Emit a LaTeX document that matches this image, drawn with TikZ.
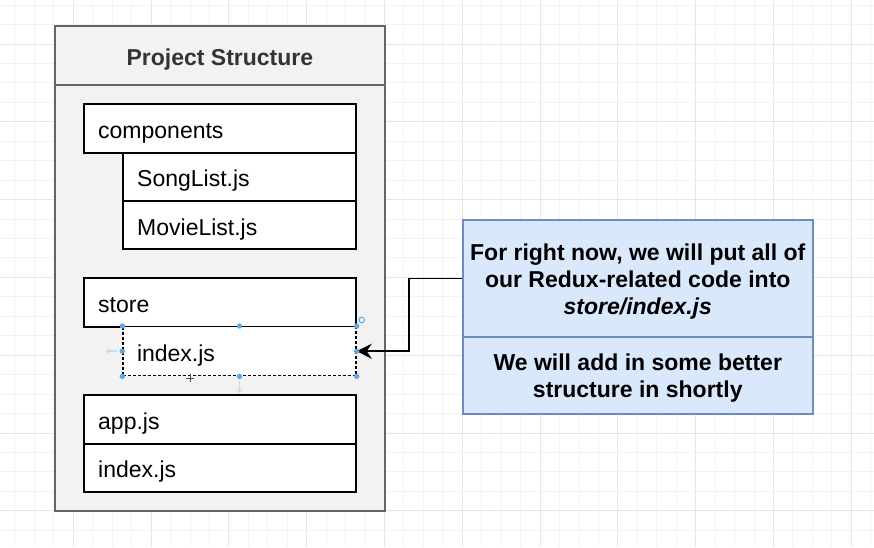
\documentclass[tikz,border=0pt]{standalone}
\usepackage{fontspec}
\setmainfont{Liberation Sans}
\usetikzlibrary{arrows.meta,calc}
\definecolor{gridminor}{HTML}{F3F3F3}
\definecolor{gridmajor}{HTML}{E6E6E6}
\definecolor{projfill}{HTML}{F2F2F2}
\definecolor{projline}{HTML}{666666}
\definecolor{titletext}{HTML}{333333}
\definecolor{notefill}{HTML}{DAE8FC}
\definecolor{noteline}{HTML}{6C8EBF}
\definecolor{handle}{HTML}{5FA8E8}
\definecolor{faintblue}{HTML}{C3DCF2}
\tikzset{
  bodyfont/.style={font=\fontsize{23pt}{27pt}\selectfont},
  filebox/.style={draw=black, fill=white, line width=1.8pt, anchor=north west,
    inner xsep=14pt, inner ysep=0pt, align=left, bodyfont, text=black,
    text height=20pt, text depth=0pt},
  notebox/.style={draw=noteline, fill=notefill, line width=1.8pt, anchor=north west,
    inner sep=0pt, align=center, minimum width=349.7pt,
    font=\fontsize{23pt}{27pt}\selectfont\bfseries},
  handledot/.style={fill=handle, draw=none},
  link/.style={draw=black, line width=1.8pt, -{Stealth[length=15pt,width=15pt,inset=5pt]}}
}
\begin{document}
\begin{tikzpicture}[x=1pt,y=-1pt]
\useasboundingbox (0,0) rectangle (874,547);
\fill[white] (0,0) rectangle (874,547);
% grid
\foreach \i in {-4,...,41}{
  \pgfmathsetmacro{\gx}{73.3+\i*19.45}
  \pgfmathtruncatemacro{\m}{mod(\i+40,4)}
  \ifnum\m=0
    \draw[gridmajor, line width=1pt] (\gx,0) -- (\gx,547);
  \else
    \draw[gridminor, line width=1pt] (\gx,0) -- (\gx,547);
  \fi
}
\foreach \j in {-3,...,26}{
  \pgfmathsetmacro{\gy}{44+\j*19.45}
  \pgfmathtruncatemacro{\m}{mod(\j+40,4)}
  \ifnum\m=0
    \draw[gridmajor, line width=1pt] (0,\gy) -- (874,\gy);
  \else
    \draw[gridminor, line width=1pt] (0,\gy) -- (874,\gy);
  \fi
}
% project container
\node[draw=projline, fill=projfill, line width=1.8pt, anchor=north west,
      minimum width=330pt, minimum height=485pt, inner sep=0pt] (proj) at (54,25) {};
\node[draw=projline, fill=projfill, line width=1.8pt, anchor=north west,
      minimum width=330pt, minimum height=59pt, inner sep=0pt,
      text height=20pt, text depth=0pt,
      font=\fontsize{23pt}{27pt}\selectfont\bfseries, text=titletext] (title) at (54,25) {Project Structure};
% files
\node[filebox, minimum width=272pt, minimum height=49pt, text width=244pt] (comp) at (83.3,102.7) {components};
\node[filebox, minimum width=233pt, minimum height=48.3pt, text width=205pt] (song) at (122.3,151.7) {SongList.js};
\node[filebox, minimum width=233pt, minimum height=48.3pt, text width=205pt] (movie) at (122.3,200) {MovieList.js};
\node[filebox, minimum width=272pt, minimum height=48.7pt, text width=244pt] (store) at (83.3,277.3) {store};
\node[filebox, minimum width=233pt, minimum height=49pt, text width=205pt, densely dashed, line width=1.4pt] (idx) at (122.3,326) {index.js};
\node[filebox, minimum width=272pt, minimum height=48.7pt, text width=244pt] (app) at (83.3,394) {app.js};
\node[filebox, minimum width=272pt, minimum height=48pt, text width=244pt] (rootidx) at (83.3,442.7) {index.js};
% note
\node[notebox, minimum height=116.7pt, text height=72.8pt, text depth=0pt] (note1) at (462,219.3)
  {For right now, we will put all of\\our Redux-related code into\\\textit{store/index.js}};
\node[notebox, minimum height=77.3pt, text height=44pt, text depth=0pt] (note2) at (462,336)
  {We will add in some better\\structure in shortly};
% connector
\draw[link] (note1.west) -- ++(-53,0) |- (idx.east);
% selection handles
\foreach \p in {north west, north, north east, west, east, south west, south, south east}{
  \fill[handledot] (idx.\p) circle (2.7pt);
}
\draw[handle, line width=1pt] ($(idx.north east)+(5,-6)$) circle (2.8pt);
\draw[faintblue, line width=1.5pt, -{Stealth[length=5pt,width=6pt]}] ($(idx.west)+(-5,0)$) -- ++(-12,0);
\draw[faintblue, line width=1.5pt, -{Stealth[length=5pt,width=6pt]}] ($(idx.south)+(0,5)$) -- ++(0,12);
\draw[black!70, line width=1pt] (190,374) -- (190,382) (186,378) -- (194,378);
\end{tikzpicture}
\end{document}
